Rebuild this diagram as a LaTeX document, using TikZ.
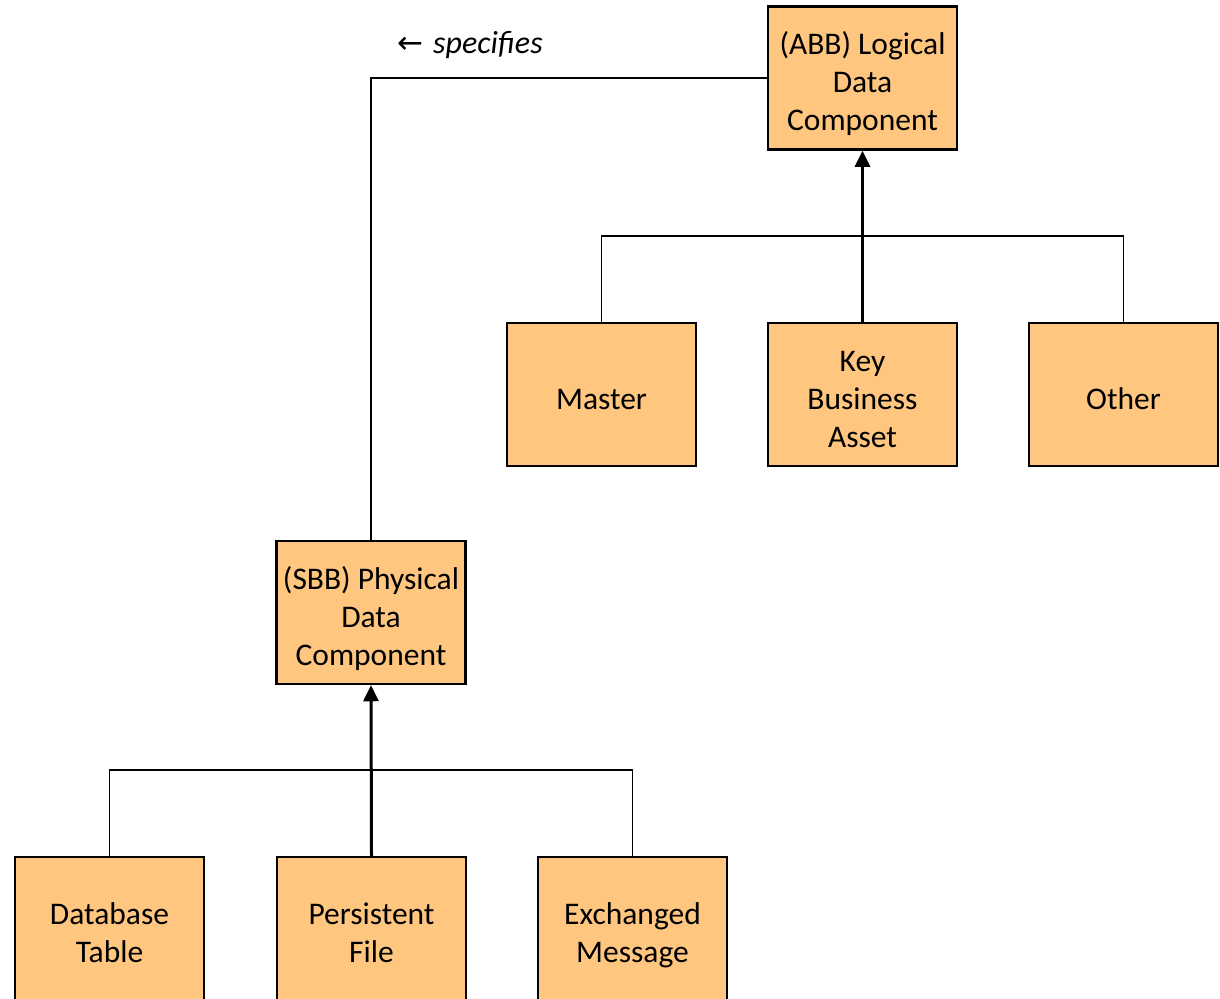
\documentclass[tikz,border=0pt]{standalone}
\usepackage{fontspec}
\setmainfont{Carlito}
\newfontfamily\symfont{DejaVu Sans}
\usetikzlibrary{arrows.meta}
\definecolor{boxfill}{RGB}{255,198,128}
% stacked, centred lines of equal height, drawn a little below the box centre
\newcommand{\blocktext}[1]{%
  \raisebox{-7pt}[\height][\depth]{\begin{tabular}{@{}c@{}}#1\end{tabular}}}
\tikzset{
  block/.style={draw=black, fill=boxfill, line width=2.5pt,
    minimum width=189pt, minimum height=143pt, inner sep=0pt,
    font=\fontsize{31.5}{38}\selectfont},
  link/.style={draw=black, line width=1.8pt},
  genlink/.style={draw=black, line width=3pt,
    -{Triangle[length=16pt,width=15pt]}},
}
\begin{document}
\begin{tikzpicture}[x=1pt,y=-1pt]
\useasboundingbox (0,0) rectangle (1220,998);

% logical level
\node[block] (abb) at (862.5,78) {\blocktext{(ABB) Logical\\Data\\Component}};
\node[block] (master) at (601.5,394.5) {\blocktext{Master}};
\node[block] (key) at (862.5,394.5) {\blocktext{Key\\Business\\Asset}};
\node[block] (other) at (1123.5,394.5) {\blocktext{Other}};

% physical level
\node[block] (sbb) at (371,612.5) {\blocktext{(SBB) Physical\\Data\\Component}};
\node[block] (db) at (109.5,928.5) {\blocktext{Database\\Table}};
\node[block] (pf) at (371.5,928.5) {\blocktext{Persistent\\File}};
\node[block] (em) at (632.5,928.5) {\blocktext{Exchanged\\Message}};

% specification link between the levels
\draw[link] (abb.west) -| (sbb.north);
\node[font=\fontsize{32}{38}\selectfont] (spec) at (470,45)
  {{\fontsize{31}{30}\selectfont\symfont ←}\hspace{10pt}\textit{specifies}};

% generalisation tree of the logical component
\coordinate (topbar) at (0,236);
\draw[link] (master.north) |- (other.north |- topbar) -- (other.north);
\draw[genlink] (key.north) -- (abb.south);

% generalisation tree of the physical component
\coordinate (lowbar) at (0,770);
\draw[link] (db.north) |- (em.north |- lowbar) -- (em.north);
\draw[genlink] (pf.north) -- (sbb.south);
\end{tikzpicture}
\end{document}
